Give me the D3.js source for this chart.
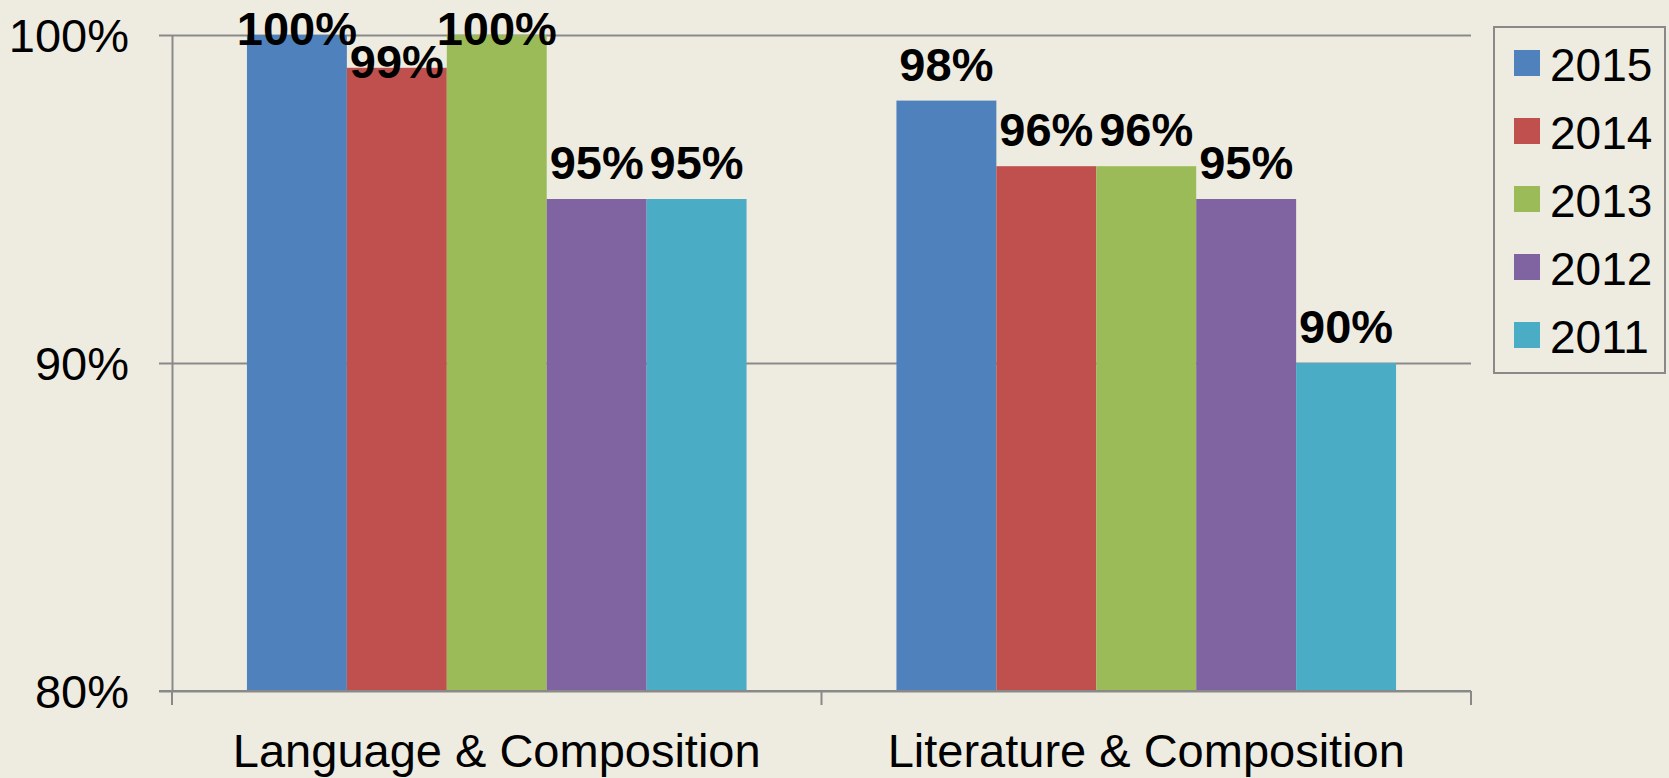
<!DOCTYPE html>
<html>
<head>
<meta charset="utf-8">
<script src="https://cdn.jsdelivr.net/npm/d3@7"></script>
<style>
	body { margin: 0; background: #eeece1; }
	svg { display: block; font-family: 'Liberation Sans', Arial, sans-serif; }
</style>
</head>
<body>
<div id="chart"></div>
<script>
const categories = ['Language & Composition', 'Literature & Composition']
const years = ['2015', '2014', '2013', '2012', '2011']
const colors = ['#4f81bd', '#c0504d', '#9bbb59', '#8064a2', '#4bacc6']
// one row per category, columns in the order of years
const values = [
	[1.0, 0.99, 1.0, 0.95, 0.95],
	[0.98, 0.96, 0.96, 0.95, 0.9]
]
const yTicks = [0.8, 0.9, 1.0]

const width = 1669,
	height = 778
const margin = { top: 35, right: 198, bottom: 87, left: 172 }
const plotW = width - margin.left - margin.right
const plotH = height - margin.top - margin.bottom
const axisColor = '#898989'

const svg = d3
	.select('#chart')
	.append('svg')
	.attr('width', width)
	.attr('height', height)

svg.append('rect')
	.attr('width', width)
	.attr('height', height)
	.attr('fill', '#eeece1')

const g = svg
	.append('g')
	.attr('transform', `translate(${margin.left},${margin.top})`)

const y = d3.scaleLinear().domain([0.8, 1.0]).range([plotH, 0])

const x0 = d3.scaleBand().domain(categories).range([0, plotW]).padding(0)

const x1 = d3
	.scaleBand()
	.domain(years)
	.range([0, x0.bandwidth()])
	.paddingInner(0)
	.paddingOuter(0.75)

const color = d3.scaleOrdinal().domain(years).range(colors)

// gridlines
g.append('g')
	.call(d3.axisLeft(y).tickValues(yTicks).tickSize(-plotW).tickFormat(''))
	.call(a => a.select('.domain').remove())
	.selectAll('line')
	.attr('stroke', axisColor)
	.attr('stroke-width', 2)

// y axis
const yAxis = g
	.append('g')
	.call(
		d3
			.axisLeft(y)
			.tickValues(yTicks)
			.tickSizeInner(13)
			.tickSizeOuter(0)
			.tickPadding(30)
			.tickFormat(d3.format('.0%'))
	)
yAxis.select('.domain').attr('stroke', axisColor).attr('stroke-width', 2)
yAxis.selectAll('line').attr('stroke', axisColor).attr('stroke-width', 2)
yAxis.selectAll('text')
	.attr('font-size', 47)
	.attr('font-family', "'Liberation Sans', Arial, sans-serif")
	.attr('fill', '#000')
	.attr('dy', '0.36em')

// bars
const groups = g
	.selectAll('.group')
	.data(categories)
	.enter()
	.append('g')
	.attr('class', 'group')
	.attr('transform', d => `translate(${x0(d)},0)`)

const barData = (d, i) => years.map((yr, j) => ({ year: yr, value: values[i][j] }))

groups
	.selectAll('rect')
	.data(barData)
	.enter()
	.append('rect')
	.attr('x', d => x1(d.year))
	.attr('y', d => y(d.value))
	.attr('width', x1.bandwidth())
	.attr('height', d => plotH - y(d.value))
	.attr('fill', d => color(d.year))

// x axis: baseline, category boundary ticks and labels
const xAxis = g
	.append('g')
	.attr('transform', `translate(0,${plotH})`)
	.call(d3.axisBottom(x0).tickSize(0).tickPadding(43))
xAxis.select('.domain').remove()
xAxis.selectAll('text')
	.attr('font-size', 47)
	.attr('font-family', "'Liberation Sans', Arial, sans-serif")
	.attr('fill', '#000')

xAxis.append('line')
	.attr('x1', -13)
	.attr('x2', plotW)
	.attr('stroke', axisColor)
	.attr('stroke-width', 2)

const bounds = categories.map(c => x0(c)).concat([plotW])
xAxis.selectAll('.bound')
	.data(bounds)
	.enter()
	.append('line')
	.attr('class', 'bound')
	.attr('x1', d => d)
	.attr('x2', d => d)
	.attr('y1', 0)
	.attr('y2', 14)
	.attr('stroke', axisColor)
	.attr('stroke-width', 2)

// value labels (drawn last so they sit above the bars)
const labelLayer = g.append('g')
categories.forEach((c, i) => {
	labelLayer
		.selectAll(null)
		.data(barData(c, i))
		.enter()
		.append('text')
		.attr('x', d => x0(c) + x1(d.year) + x1.bandwidth() / 2)
		.attr('y', d => {
			const top = y(d.value)
			// labels that would run off the top are pushed down onto the bar
			return top - 55 < 0 ? top + 10 : top - 20
		})
		.attr('text-anchor', 'middle')
		.attr('font-size', 47)
		.attr('font-weight', 'bold')
		.attr('fill', '#000')
		.text(d => d3.format('.0%')(d.value))
})

// legend
const legend = svg
	.append('g')
	.attr('transform', 'translate(1494,27)')

legend.append('rect')
	.attr('width', 171)
	.attr('height', 346)
	.attr('fill', 'none')
	.attr('stroke', axisColor)
	.attr('stroke-width', 2)

const item = legend
	.selectAll('.item')
	.data(years)
	.enter()
	.append('g')
	.attr('class', 'item')
	.attr('transform', (d, i) => `translate(20,${23 + i * 68})`)

item.append('rect')
	.attr('width', 26)
	.attr('height', 26)
	.attr('fill', d => color(d))

item.append('text')
	.attr('x', 36)
	.attr('y', 31)
	.attr('font-size', 46)
	.attr('fill', '#000')
	.text(d => d)
</script>
</body>
</html>
